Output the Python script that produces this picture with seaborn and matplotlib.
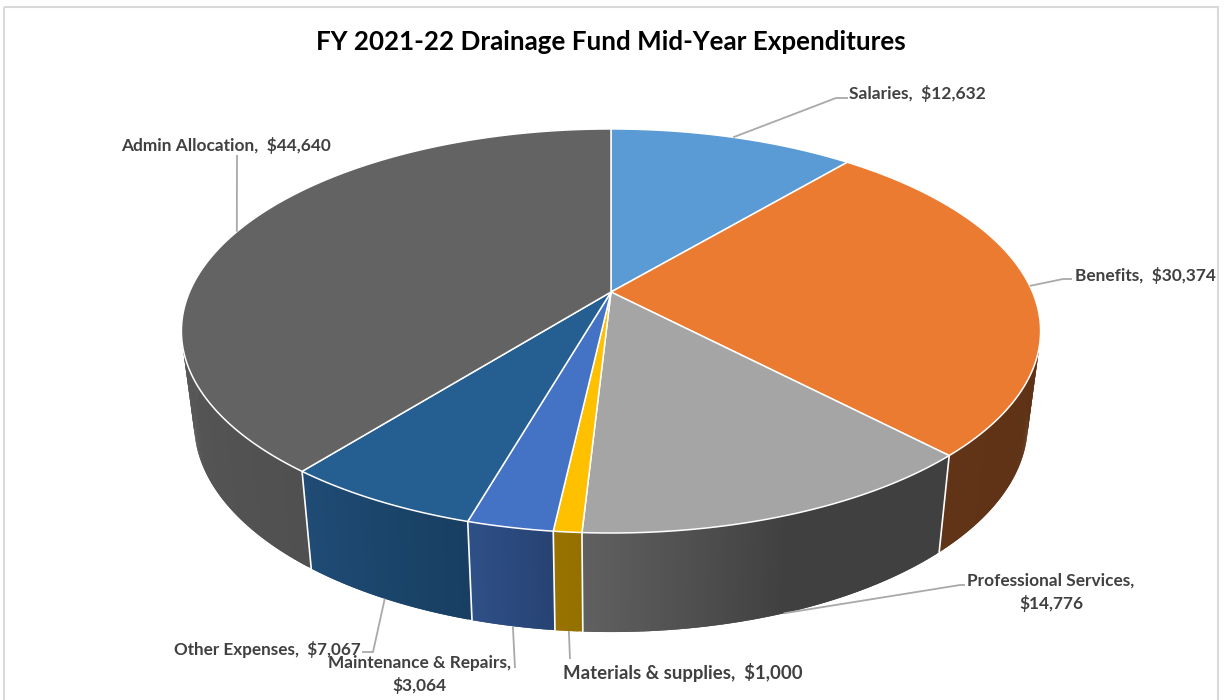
"""FY 2021-22 drainage fund pie, drawn in perspective with a solid side wall."""

import numpy as np
import seaborn as sns
import matplotlib.pyplot as plt
from matplotlib.patches import Rectangle

CATEGORIES = ['Salaries', 'Benefits', 'Professional Services', 'Materials & supplies',
              'Maintenance & Repairs', 'Other Expenses', 'Admin Allocation']
VALUES = [12632, 30374, 14776, 1000, 3064, 7067, 44640]
TOP_COLORS = ['#5b9bd5', '#eb7b31', '#a5a5a5', '#ffc000', '#4472c4', '#255e91', '#636363']
# side wall shades, listed from the left of the picture to the right
WALL_COLORS = [['#3a5f82', '#3a5f82'], ['#613417', '#5c3015'], ['#606060', '#404040', '#404040'],
               ['#997300', '#947000'], ['#2f4f87', '#264373'], ['#1f4b75', '#183f62'],
               ['#5c5c5c', '#505050']]
LABELS = ['Salaries,  $12,632', 'Benefits,  $30,374', 'Professional Services,\n$14,776',
          'Materials & supplies,  $1,000', 'Maintenance & Repairs,\n$3,064',
          'Other Expenses,  $7,067', 'Admin Allocation,  $44,640']
LABEL_SIZES = [12.5, 12.4, 12.4, 13.4, 12.4, 12.3, 12.4]

# projection of the unit circle to pixels: top face and bottom face of the disc
TOP = dict(cx=611, cy=292, a=421.5, b=194.5, k=0.193)
BOTTOM = dict(cx=611, cy=383.6, a=409, b=200.5, k=0.193)

def project(theta, face, r=1.0):
  # theta in degrees, clockwise from 12 o'clock
  u = r * np.sin(np.radians(theta))
  v = r * np.cos(np.radians(theta))
  d = 1 + face['k'] * v
  return face['cx'] + face['a'] * u / d, face['cy'] - face['b'] * v / d

def drawWall(ax, start, end, colors):
  # only the part facing the viewer matters, the top face hides the rest
  start, end = max(start, 75), min(end, 292)
  if end <= start:
    return
  n = max(int(end - start) * 2, 4)
  thetas = np.linspace(start, end, n + 1)
  shades = sns.blend_palette(colors[::-1], n)
  for i in range(n):
    # each strip runs under the next one so no seams show between them
    t = thetas[i:i + 3]
    xt, yt = project(t, TOP)
    xb, yb = project(t, BOTTOM)
    ax.fill(np.r_[xt, xb[::-1]], np.r_[yt, yb[::-1]], color=shades[i], lw=0, zorder=2)

def drawTop(ax, start, end, color):
  thetas = np.linspace(start, end, max(int(end - start) * 2, 4))
  x, y = project(thetas, TOP)
  ax.fill(np.r_[TOP['cx'], x], np.r_[TOP['cy'], y], facecolor=color, edgecolor='white',
          lw=1.1, joinstyle='round', zorder=4)

sns.set_theme(style='white')
plt.rcParams['font.family'] = ['Lato', 'DejaVu Sans']

fig = plt.figure(figsize=(12.25, 7), dpi=100)
ax = fig.add_axes([0, 0, 1, 1])
ax.set_xlim(0, 1225)
ax.set_ylim(700, 0)
ax.axis('off')

# chart frame, cropped at the bottom of the picture
ax.add_patch(Rectangle((3.5, 7), 1214.5, 720, fill=False, edgecolor='#d9d9d9', lw=1.5, clip_on=True))

edges = np.r_[0, np.cumsum(VALUES)] / np.sum(VALUES) * 360
mids = (edges[:-1] + edges[1:]) / 2

for i in range(len(VALUES)):
  drawWall(ax, edges[i], edges[i + 1], WALL_COLORS[i])
for e in edges[2:-1]:
  xt, yt = project(e, TOP)
  xb, yb = project(e, BOTTOM)
  ax.plot([xt, xb], [yt, yb], color='white', lw=1.2, zorder=3)
for i in range(len(VALUES)):
  drawTop(ax, edges[i], edges[i + 1], TOP_COLORS[i])

# leader lines: from the rim at each slice's middle, through the elbows towards the label
ELBOWS = [[(836, 98), (848, 98)], [(1063, 279), (1072, 279)], [(960, 585), (965, 585)],
          [(570, 659)], [(515, 668)], [(373, 652), (362, 652)], [(237, 155)]]
ON_WALL = [False, False, True, True, True, True, False]
for mid, elbow, wall in zip(mids, ELBOWS, ON_WALL):
  x0, y0 = project(mid, BOTTOM if wall else TOP)
  xs = [x0] + [p[0] for p in elbow]
  ys = [y0] + [p[1] for p in elbow]
  ax.plot(xs, ys, color='#a9a9a9', lw=1.3, zorder=3 if wall else 5, solid_capstyle='butt')

LABEL_POS = [(849, 93, 'left'), (1075, 275, 'left'), (1051, 592, 'center'),
             (563, 672, 'left'), (419, 674.5, 'center'), (174, 649, 'left'), (121, 145, 'left')]
for text, (x, y, ha), size in zip(LABELS, LABEL_POS, LABEL_SIZES):
  ax.text(x, y, text, ha=ha, va='center', fontsize=size, fontweight='bold', color='#404040',
          linespacing=1.45, zorder=6)

ax.text(611, 41.5, 'FY 2021-22 Drainage Fund Mid-Year Expenditures', ha='center', va='center',
        fontsize=18.7, fontweight='bold', color='black', zorder=6)

plt.savefig('out.png', dpi=100)
